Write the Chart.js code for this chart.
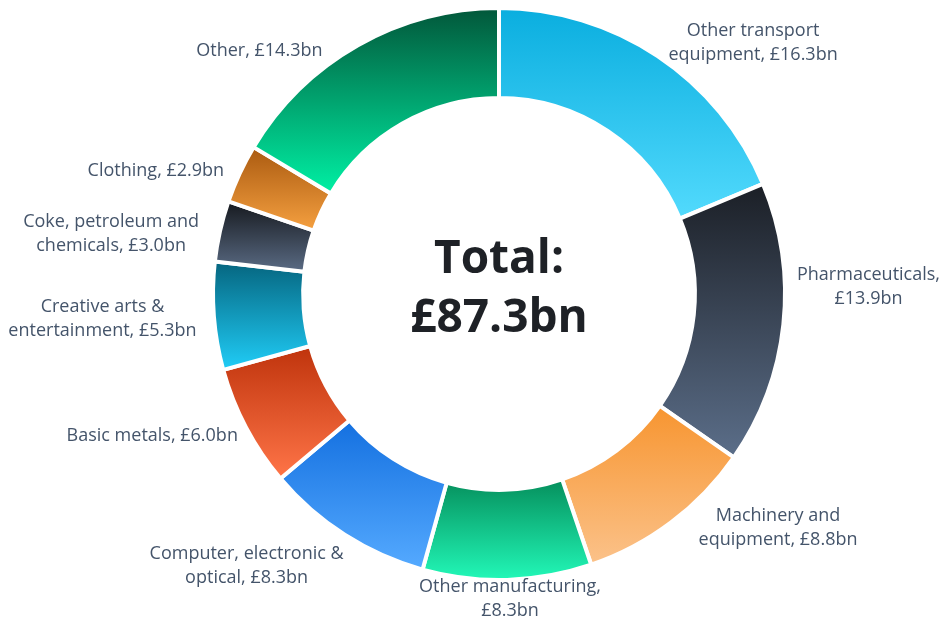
<!DOCTYPE html>
<html>
<head>
<meta charset="utf-8">
<script src="https://cdn.jsdelivr.net/npm/chart.js@4.4.0/dist/chart.umd.min.js"></script>
<style>
  html, body { margin: 0; padding: 0; background: #fff; }
  #wrap { width: 939px; height: 621px; }
</style>
</head>
<body>
<div id="wrap"><canvas id="gvaChart"></canvas></div>
<script>
// GVA by manufacturing sub-sector, £bn
const sectors = [
    'Other transport equipment',
    'Pharmaceuticals',
    'Machinery and equipment',
    'Other manufacturing',
    'Computer, electronic & optical',
    'Basic metals',
    'Creative arts & entertainment',
    'Coke, petroleum and chemicals',
    'Clothing',
    'Other'
];
const gvaValues = [16.3, 13.9, 8.8, 8.3, 8.3, 6.0, 5.3, 3.0, 2.9, 14.3];
const totalGva = 87.3;

// number of words on the first label line (0 = single line)
const firstLineWords = [2, 1, 2, 2, 3, 0, 3, 3, 0, 0];

// each slice fades from the top colour to the bottom colour
const topColours = ['#0aaedf', '#1b1f26', '#f79530', '#058f5c', '#1470e0',
                    '#bf330c', '#05657f', '#16191e', '#aa5a10', '#02573a'];
const bottomColours = ['#52dafd', '#5b6e89', '#fbc28a', '#22f8b8', '#55aaff',
                       '#ff7548', '#20cdf7', '#5a6b84', '#f5a040', '#00f0a4'];

const labelFont = '18px "Open Sans"';
const labelColour = '#44546a';
const lineHeight = 24;

// hand tweaks so labels don't crowd the ring, [dx, dy] per slice
const labelShift = [[46, 18], [8, -41], [56, -24], [0, -18], [-44, 0],
                    [-14, -3], [-14, 0], [-19, 11], [-16, 8], [-64, 28]];

function labelLines(i) {
    const words = (sectors[i] + ', £' + gvaValues[i].toFixed(1) + 'bn').split(' ');
    const n = firstLineWords[i];
    if (!n) return [words.join(' ')];
    return [words.slice(0, n).join(' '), words.slice(n).join(' ')];
}

// vertical gradient over the bounding box of every slice
const sliceGradients = {
    id: 'sliceGradients',
    beforeDatasetsDraw(chart) {
        const ctx = chart.ctx;
        chart.getDatasetMeta(0).data.forEach((arc, i) => {
            const p = arc.getProps(['x', 'y', 'startAngle', 'endAngle', 'innerRadius', 'outerRadius'], true);
            let top = Infinity, bottom = -Infinity;
            for (let k = 0; k <= 64; k++) {
                const a = p.startAngle + (p.endAngle - p.startAngle) * k / 64;
                [p.innerRadius, p.outerRadius].forEach(r => {
                    const yy = p.y + Math.sin(a) * r;
                    top = Math.min(top, yy);
                    bottom = Math.max(bottom, yy);
                });
            }
            const g = ctx.createLinearGradient(0, top, 0, bottom);
            g.addColorStop(0, topColours[i]);
            g.addColorStop(1, bottomColours[i]);
            arc.options.backgroundColor = g;
        });
    }
};

// category labels outside the ring and the total in the hole
const ringLabels = {
    id: 'ringLabels',
    afterDraw(chart) {
        const ctx = chart.ctx;
        ctx.save();
        ctx.font = labelFont;
        ctx.fillStyle = labelColour;
        ctx.textAlign = 'center';
        ctx.textBaseline = 'middle';
        let cx0 = 0, cy0 = 0;
        chart.getDatasetMeta(0).data.forEach((arc, i) => {
            const p = arc.getProps(['x', 'y', 'startAngle', 'endAngle', 'outerRadius'], true);
            cx0 = p.x; cy0 = p.y;
            const mid = (p.startAngle + p.endAngle) / 2;
            const lines = labelLines(i);
            const w = Math.max(...lines.map(l => ctx.measureText(l).width)) * 16 / 18;
            const h = lines.length * 23;
            const r = p.outerRadius + 14;
            const bx = p.x + Math.cos(mid) * (r + w / 2) + labelShift[i][0];
            const by = p.y + Math.sin(mid) * (r + h / 2) + labelShift[i][1];
            const top = by - lines.length * lineHeight / 2;
            lines.forEach((l, k) => ctx.fillText(l, bx, top + lineHeight * (k + 0.5)));
        });

        ctx.font = 'bold 46px "Open Sans"';
        ctx.fillStyle = '#1e2126';
        ctx.textBaseline = 'alphabetic';
        ctx.fillText('Total:', cx0, cy0 - 21);
        ctx.fillText('£' + totalGva.toFixed(1) + 'bn', cx0, cy0 + 38);
        ctx.restore();
    }
};

new Chart(document.getElementById('gvaChart').getContext('2d'), {
    type: 'doughnut',
    data: {
        labels: sectors,
        datasets: [{
            data: gvaValues,
            backgroundColor: () => '#cccccc',
            borderColor: '#ffffff',
            borderWidth: 4
        }]
    },
    options: {
        responsive: true,
        maintainAspectRatio: false,
        animation: false,
        radius: 286,
        cutout: 200,
        layout: { padding: { left: 59, right: 0, top: 0, bottom: 33 } },
        plugins: {
            legend: { display: false },
            tooltip: { enabled: false }
        }
    },
    plugins: [sliceGradients, ringLabels]
});
</script>
</body>
</html>
